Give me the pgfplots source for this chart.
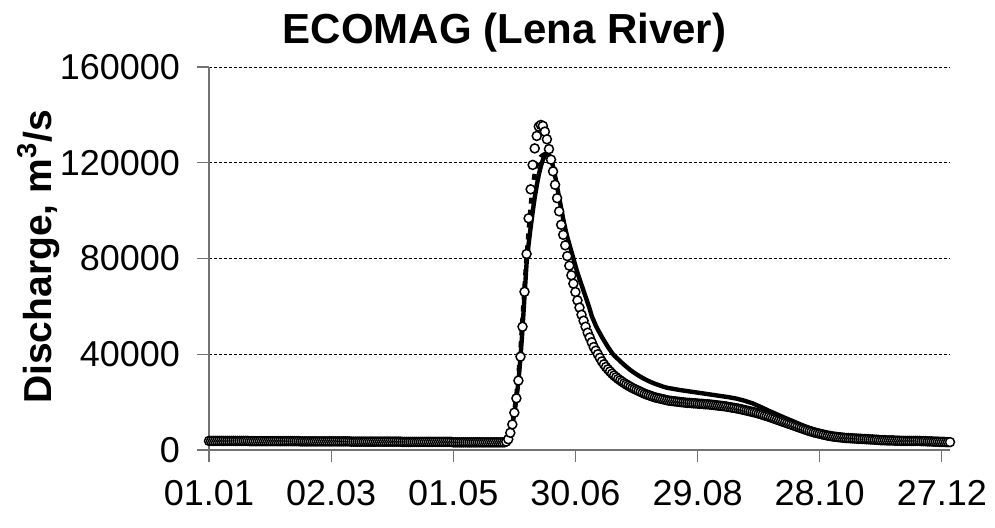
\documentclass[border=0pt]{standalone}
\usepackage{fontspec}
\setmainfont{Liberation Sans}
\usepackage{pgfplots}
\pgfplotsset{compat=1.18}

\begin{document}
\begin{tikzpicture}
\begin{axis}[
  name=ax,
  scale only axis,
  width=370.5pt, height=191.5pt,
  xmin=1, xmax=365, ymin=0, ymax=160000,
  axis lines=left,
  axis line style={-, draw=black!55, line width=0.6pt},
  tick align=outside,
  major tick length=6pt,
  tick style={draw=black!55, line width=0.6pt},
  xtick={1,61,121,181,241,301,361},
  xticklabels={01.01,02.03,01.05,30.06,29.08,28.10,27.12},
  ytick={0,40000,80000,120000,160000},
  yticklabels={0,40000,80000,120000,160000},
  scaled y ticks=false,
  ticklabel style={font=\fontsize{18}{21}\selectfont},
  xticklabel style={yshift=-5.5pt},
  yticklabel style={xshift=-5pt},
  ymajorgrids,
  major grid style={black, line width=0.5pt, dash pattern=on 1.5pt off 1pt},
  clip=false,
]

% simulated discharge (ECOMAG)
\addplot[black, line width=2.2pt, line join=round] coordinates {
(1,3700) (30,3600) (60,3500) (90,3400) (120,3200) (146,3200)
(147,3500) (148,4500) (149,7000) (150,10500) (151,15300) (152,21300)
(153,28700) (154,38500) (155,50500) (156,64500) (157,78000) (158,86000)
(159,93000) (160,99500) (161,105500) (162,110500) (163,115000) (164,118500)
(165,121200) (166,123000) (167,123700) (168,123300) (169,121500) (170,118500)
(171,114500) (172,110000) (173,105500) (174,101000) (175,96500) (176,92500)
(177,89000) (178,86000) (179,83000) (180,80000) (181,77000) (182,74000)
(183,71500) (184,69000) (185,66500) (186,64000) (187,61500) (188,59000)
(189,56000) (190,54000) (191,52000) (192,50300) (193,48800) (194,47200)
(195,45800) (196,44400) (197,43000) (198,41800) (199,40500) (200,39500)
(202,37900) (204,36300) (206,34800) (208,33400) (210,32200) (212,31100)
(214,30100) (216,29200) (218,28400) (220,27700) (222,27100) (224,26500)
(226,26000) (228,25700) (230,25400) (232,25100) (236,24600) (240,24100)
(244,23600) (248,23100) (252,22600) (256,22100) (260,21500) (264,20600)
(268,19500) (272,18000) (276,16400) (280,14900) (284,13400) (288,12000)
(292,10500) (296,9200) (300,8100) (304,7100) (308,6200) (312,5500)
(316,5000) (320,4700) (330,4200) (340,4000) (350,3800) (365,3300)
};

% second simulation, differs on the rising limb only
\addplot[black, line width=2.2pt, dash pattern=on 3pt off 3pt] coordinates {
(147,3500) (148,4600) (149,7400) (150,11200) (151,16300) (152,23000)
(153,31500) (154,42000) (155,55000) (156,68500) (157,81000) (158,91500)
(159,102000) (160,110000) (161,115500) (162,119000) (163,121000) (164,122500)
(165,123200) (166,123600) (167,123700) (168,123300) (169,121500)
};

% observed daily discharge
\addplot[only marks, mark=*, mark size=2.25pt,
  mark options={fill=white, draw=black, line width=0.75pt}] coordinates {
(1,3800) (2,3800) (3,3800) (4,3800) (5,3800) (6,3800) (7,3800) (8,3800) (9,3800) (10,3800)
(11,3800) (12,3800) (13,3800) (14,3800) (15,3800) (16,3800) (17,3800) (18,3800) (19,3800) (20,3800)
(21,3700) (22,3700) (23,3700) (24,3700) (25,3700) (26,3700) (27,3700) (28,3700) (29,3700) (30,3700)
(31,3700) (32,3700) (33,3700) (34,3700) (35,3700) (36,3700) (37,3700) (38,3700) (39,3700) (40,3700)
(41,3700) (42,3700) (43,3700) (44,3700) (45,3700) (46,3600) (47,3600) (48,3600) (49,3600) (50,3600)
(51,3600) (52,3600) (53,3600) (54,3600) (55,3600) (56,3600) (57,3600) (58,3600) (59,3600) (60,3600)
(61,3600) (62,3600) (63,3600) (64,3600) (65,3600) (66,3600) (67,3600) (68,3600) (69,3600) (70,3600)
(71,3500) (72,3500) (73,3500) (74,3500) (75,3500) (76,3500) (77,3500) (78,3500) (79,3500) (80,3500)
(81,3500) (82,3500) (83,3500) (84,3500) (85,3500) (86,3500) (87,3500) (88,3500) (89,3500) (90,3500)
(91,3500) (92,3500) (93,3500) (94,3500) (95,3500) (96,3400) (97,3400) (98,3400) (99,3400) (100,3400)
(101,3400) (102,3400) (103,3400) (104,3400) (105,3400) (106,3400) (107,3400) (108,3400) (109,3400) (110,3400)
(111,3400) (112,3400) (113,3400) (114,3400) (115,3400) (116,3400) (117,3400) (118,3400) (119,3400) (120,3400)
(121,3200) (122,3200) (123,3200) (124,3200) (125,3200) (126,3200) (127,3200) (128,3200) (129,3200) (130,3200)
(131,3200) (132,3200) (133,3200) (134,3200) (135,3200) (136,3200) (137,3200) (138,3200) (139,3200) (140,3200)
(141,3200) (142,3200) (143,3200) (144,3200) (145,3200) (146,3200) (147,3500) (148,4500) (149,7200) (150,10700)
(151,15600) (152,21600) (153,29000) (154,39000) (155,51500) (156,66100) (157,81900) (158,96800) (159,108900) (160,119100)
(161,126000) (162,131200) (163,135100) (164,135800) (165,135400) (166,133000) (167,129800) (168,125700) (169,121300) (170,116400)
(171,110800) (172,105200) (173,99700) (174,94100) (175,89900) (176,85500) (177,81000) (178,77000) (179,73000) (180,69500)
(181,66000) (182,62500) (183,59500) (184,56500) (185,54000) (186,51500) (187,49000) (188,47000) (189,45000) (190,43000)
(191,41500) (192,40000) (193,38500) (194,37000) (195,35800) (196,34700) (197,33700) (198,32800) (199,31900) (200,31100)
(201,30400) (202,29700) (203,29100) (204,28500) (205,27900) (206,27400) (207,26900) (208,26400) (209,25900) (210,25500)
(211,25100) (212,24700) (213,24300) (214,23900) (215,23500) (216,23200) (217,22900) (218,22600) (219,22300) (220,22000)
(221,21800) (222,21600) (223,21400) (224,21200) (225,21000) (226,20800) (227,20600) (228,20500) (229,20400) (230,20300)
(231,20200) (232,20100) (233,20000) (234,19900) (235,19800) (236,19700) (237,19700) (238,19600) (239,19500) (240,19500)
(241,19400) (242,19300) (243,19300) (244,19200) (245,19100) (246,19100) (247,19000) (248,18900) (249,18800) (250,18700)
(251,18600) (252,18500) (253,18400) (254,18300) (255,18200) (256,18000) (257,17900) (258,17700) (259,17600) (260,17400)
(261,17300) (262,17100) (263,16900) (264,16700) (265,16500) (266,16300) (267,16100) (268,15900) (269,15700) (270,15500)
(271,15200) (272,15000) (273,14700) (274,14400) (275,14200) (276,13900) (277,13600) (278,13300) (279,13000) (280,12700)
(281,12400) (282,12100) (283,11800) (284,11500) (285,11200) (286,10900) (287,10600) (288,10300) (289,10000) (290,9700)
(291,9400) (292,9100) (293,8800) (294,8500) (295,8200) (296,7900) (297,7700) (298,7400) (299,7200) (300,7000)
(301,6800) (302,6600) (303,6400) (304,6200) (305,6000) (306,5900) (307,5700) (308,5600) (309,5500) (310,5400)
(311,5300) (312,5200) (313,5100) (314,5000) (315,5000) (316,4900) (317,4900) (318,4800) (319,4800) (320,4700)
(321,4700) (322,4600) (323,4600) (324,4500) (325,4500) (326,4400) (327,4400) (328,4300) (329,4300) (330,4200)
(331,4100) (332,4100) (333,4100) (334,4000) (335,4000) (336,4000) (337,4000) (338,3900) (339,3900) (340,3900)
(341,3800) (342,3800) (343,3800) (344,3800) (345,3800) (346,3800) (347,3800) (348,3800) (349,3800) (350,3800)
(351,3700) (352,3700) (353,3700) (354,3600) (355,3600) (356,3600) (357,3500) (358,3500) (359,3500) (360,3400)
(361,3400) (362,3400) (363,3300) (364,3300) (365,3300)
};
\end{axis}

% title and axis label
\node[anchor=base, font=\bfseries\fontsize{21}{25}\selectfont]
  at ([shift={(147.75pt,203.5pt)}]ax.south west) {ECOMAG (Lena River)};
\node[anchor=base, rotate=90, font=\bfseries\fontsize{19.5}{23}\selectfont]
  at ([shift={(-78.5pt,96.5pt)}]ax.south west) {Discharge, m\textsuperscript{3}/s};

% page frame
\pgfresetboundingbox
\path ([shift={(-104.5pt,-38.5pt)}]ax.south west) rectangle ([shift={(393pt,225pt)}]ax.south west);
\end{tikzpicture}
\end{document}
